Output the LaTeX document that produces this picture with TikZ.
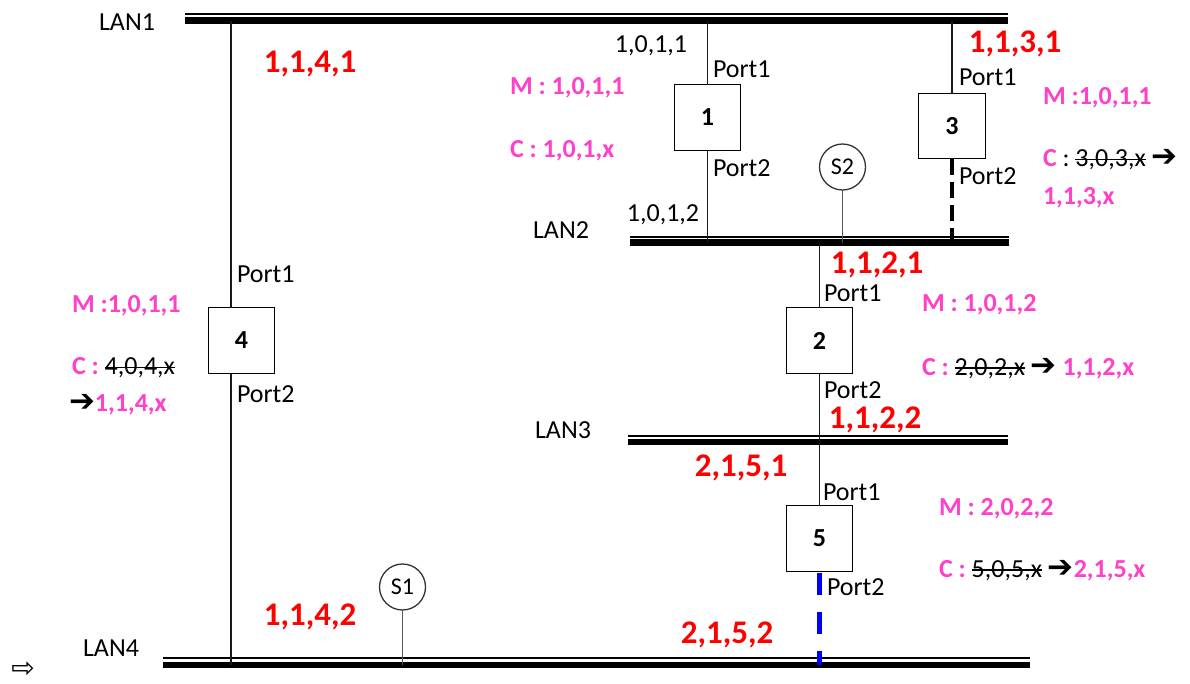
\documentclass[tikz,border=0pt]{standalone}
\usepackage{fontspec}
\setmainfont{Carlito}
\newfontfamily\symfont{DejaVu Sans}
\definecolor{mag}{RGB}{255,64,200}
\definecolor{addrred}{RGB}{255,0,0}

% struck-out old value and the replacement arrow
\newsavebox\oldvalbox
\newcommand\struck[1]{\textcolor{black}{\mdseries\sbox\oldvalbox{#1}\rlap{\rule[0.27em]{\wd\oldvalbox}{1.3pt}}\usebox\oldvalbox}}
\newcommand\thenarrow{\textcolor{black}{\symfont\bfseries\fontsize{31}{34}\selectfont ➔}}

\tikzset{
  every node/.style={inner sep=0pt, outer sep=0pt, font=\fontsize{26}{30}\selectfont},
  bridge/.style={draw=black, line width=1.5pt, fill=white, minimum width=66pt, minimum height=66pt,
                 font=\fontsize{26}{30}\selectfont\bfseries},
  station/.style={draw=black!80, circle, line width=1.3pt, fill=white, minimum size=46pt,
                  font=\fontsize{24}{28}\selectfont},
  lanthin/.style={line width=2pt},
  lanthick/.style={line width=6.5pt},
  link/.style={line width=1.4pt, draw=black!90},
  stublink/.style={line width=1.4pt, draw=black!65},
  blockedblack/.style={line width=4.5pt, dash pattern=on 16pt off 7pt},
  blockedblue/.style={line width=5pt, draw=blue, dash pattern=on 22pt off 17pt},
  port/.style={anchor=west},
  addr/.style={text=addrred, font=\fontsize{33}{38}\selectfont\bfseries},
  tbl/.style={anchor=west, text=mag, font=\fontsize{26}{30}\selectfont\bfseries},
}

\begin{document}
\begin{tikzpicture}[x=1pt, y=-1pt]
\useasboundingbox (0,0) rectangle (1190,683);

% LAN segments: thin upper rail and thick lower rail
\draw[lanthin]  (185,14)  -- (1008,14);
\draw[lanthick] (185,20.5) -- (1008,20.5);
\draw[lanthin]  (630,236.5) -- (1009,236.5);
\draw[lanthick] (630,242.5) -- (1009,242.5);
\draw[lanthin]  (628,435.5) -- (1008,435.5);
\draw[lanthick] (628,442) -- (1008,442);
\draw[lanthin]  (163,658) -- (1030,658);
\draw[lanthick] (163,665) -- (1030,665);

\coordinate (lan1) at (185,20.5);
\coordinate (lan2) at (630,242.5);
\coordinate (lan3) at (628,442);
\coordinate (lan4) at (163,665);

\node (lan1t) at (127,22)  {LAN1};
\node (lan2t) at (561,230) {LAN2};
\node (lan3t) at (563,430) {LAN3};
\node (lan4t) at (111,648) {LAN4};

% bridges and stations
\node[bridge] (b1) at (707.5,117.5) {1};
\node[bridge, minimum width=67pt, minimum height=65pt] (b3) at (952,126) {3};
\node[bridge] (b2) at (819.5,340.5) {2};
\node[bridge] (b5) at (819.5,538.5) {5};
\node[bridge] (b4) at (241.5,340.5) {4};
\node[station] (s2) at (842.5,167) {S2};
\node[station] (s1) at (402.5,587) {S1};

% attachment points of bridge 4 (off-centre link)
\coordinate (p4) at (231,20.5);
\coordinate (q4) at (231,665);

% links
\draw[link] (b1.north |- lan1) -- (b1.north);
\draw[link] (b1.south) -- (b1.south |- lan2);
\draw[link] (b3.north |- lan1) -- (b3.north);
\draw[blockedblack, shorten >=-5pt] (b3.south) -- (b3.south |- lan2);
\draw[link] (b2.north |- lan2) -- (b2.north);
\draw[link] (b2.south) -- (b2.south |- lan3);
\draw[link] (b5.north |- lan3) -- (b5.north);
\draw[blockedblue, shorten <=1pt] (b5.south) -- (b5.south |- lan4);
\draw[link] (p4) -- (p4 |- b4.north);
\draw[link] (p4 |- b4.south) -- (q4);
\draw[stublink] (s2.south) -- (s2.south |- lan2);
\draw[stublink] (s1.south) -- (s1.south |- lan4);

% bridge 1
\node (a11) at (651,46) {1,0,1,1};
\node[port] (b1p1) at (713,69) {Port1};
\node[port] (b1p2) at (713,168) {Port2};
\node (a12) at (663,215) {1,0,1,2};
\node[tbl] (m1) at (510,88) {M : 1,0,1,1};
\node[tbl] (c1) at (510,150.5) {C : 1,0,1,x};

% bridge 3
\node[addr] (r31) at (1015,44) {1,1,3,1};
\node[port] (b3p1) at (959,77) {Port1};
\node[port] (b3p2) at (959,176) {Port2};
\node[tbl] (m3) at (1043,98) {M :1,0,1,1};
\node[tbl] (c3) at (1043,160) {C\textcolor{black}{\mdseries{} : }\struck{3,0,3,x} \thenarrow};
\node[tbl] (c3b) at (1043,198) {1,1,3,x};

% bridge 2
\node[addr] (r21) at (877,265) {1,1,2,1};
\node[port] (b2p1) at (824,293) {Port1};
\node[port] (b2p2) at (824,390) {Port2};
\node[addr] (r22) at (875,420) {1,1,2,2};
\node[tbl] (m2) at (922,305) {M : 1,0,1,2};
\node[tbl] (c2) at (922,369) {C : \struck{2,0,2,x} \thenarrow{} 1,1,2,x};

% bridge 5
\node[addr] (r51) at (741,468) {2,1,5,1};
\node[port] (b5p1) at (823,492) {Port1};
\node[port] (b5p2) at (827,587) {Port2};
\node[addr] (r52) at (727,635) {2,1,5,2};
\node[tbl] (m5) at (939,509) {M : 2,0,2,2};
\node[tbl] (c5) at (939,571) {C : \struck{5,0,5,x} \thenarrow{}2,1,5,x};

% bridge 4
\node[addr] (r41) at (310,64) {1,1,4,1};
\node[port] (b4p1) at (237,274) {Port1};
\node[port] (b4p2) at (237,394) {Port2};
\node[addr] (r42) at (310,617) {1,1,4,2};
\node[tbl] (m4) at (72,306) {M :1,0,1,1};
\node[tbl] (c4b) at (69,405) {\thenarrow{}1,1,4,x};
\node[tbl] (c4) at (72,368) {C : \struck{4,0,4,x}};

% marker arrow
\node[anchor=base] (hint) at (23,677) {\symfont\fontsize{28}{31}\selectfont ⇨};
\end{tikzpicture}
\end{document}
